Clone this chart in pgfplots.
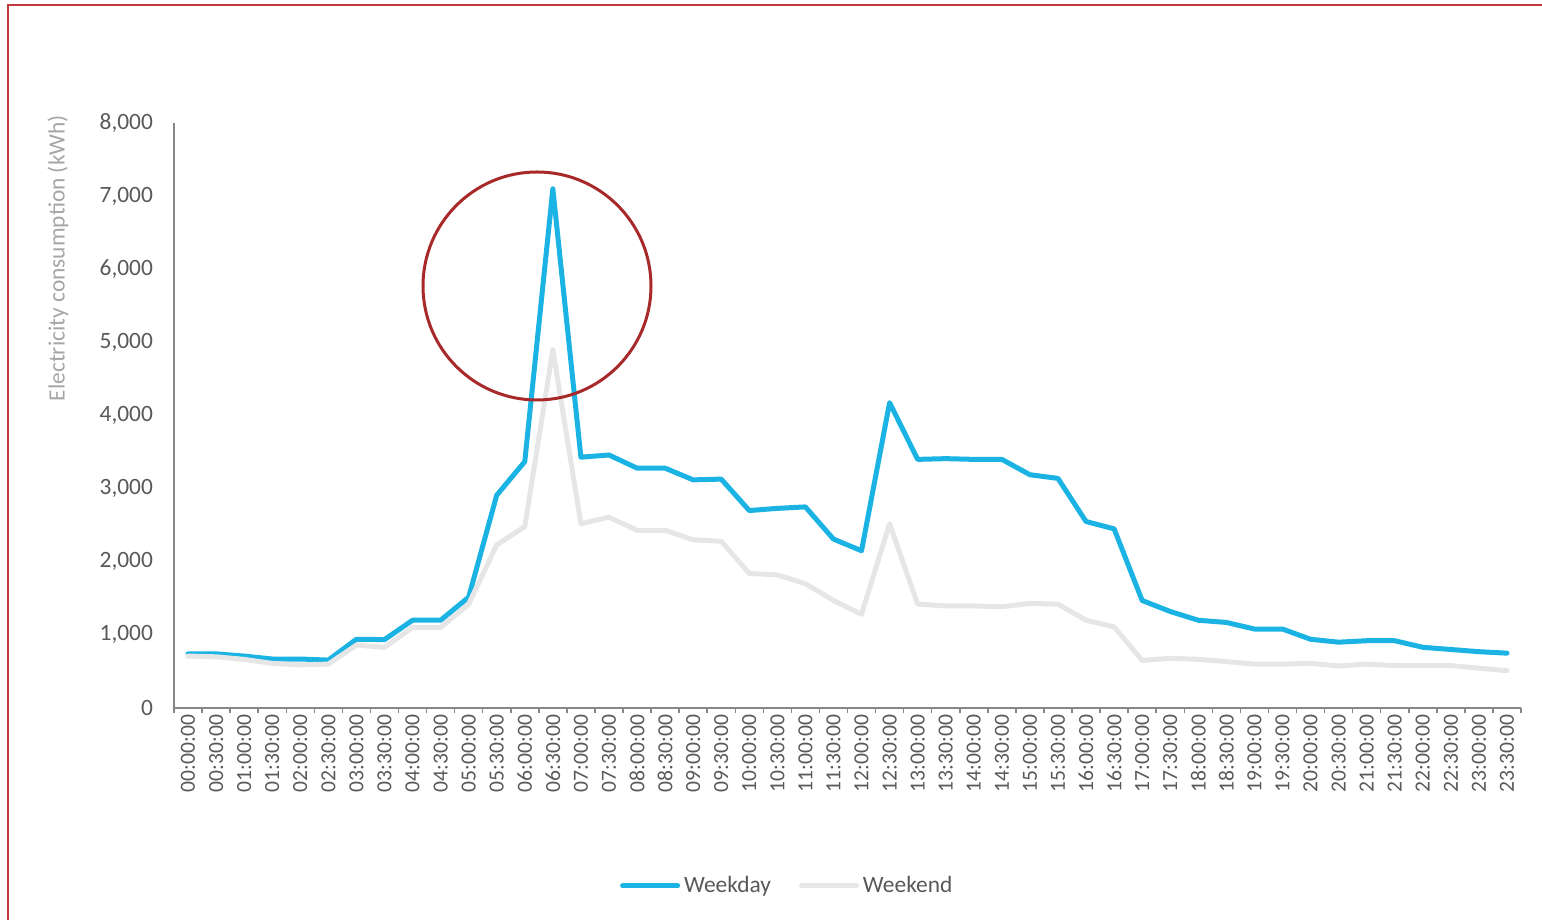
\documentclass[border=0pt]{standalone}
\usepackage{pgfplots}
\pgfplotsset{compat=1.18}
\usepackage{pgfplotstable}
\usepackage{fontspec}
\setmainfont{Carlito}
\definecolor{wkday}{HTML}{1BB3E3}
\definecolor{wkend}{HTML}{E6E6E6}
\definecolor{tickc}{HTML}{595959}
\definecolor{labc}{HTML}{A6A6A6}
\definecolor{axc}{HTML}{868686}
\definecolor{circc}{HTML}{A8292A}
\definecolor{framec}{HTML}{C0393C}

\pgfplotstableread{
idx weekday weekend
0 740 710
1 740 700
2 710 665
3 670 610
4 670 590
5 655 600
6 940 860
7 935 830
8 1200 1100
9 1200 1100
10 1515 1420
11 2910 2230
12 3370 2480
13 7100 4900
14 3430 2520
15 3460 2610
16 3280 2430
17 3280 2430
18 3120 2300
19 3130 2280
20 2700 1840
21 2730 1820
22 2750 1700
23 2310 1470
24 2150 1280
25 4175 2520
26 3400 1420
27 3410 1395
28 3400 1395
29 3400 1385
30 3190 1430
31 3140 1420
32 2550 1200
33 2450 1110
34 1470 650
35 1320 680
36 1200 665
37 1170 635
38 1080 600
39 1080 600
40 940 610
41 900 575
42 920 600
43 920 580
44 830 580
45 800 580
46 770 545
47 750 510
}\data

\begin{document}
\begin{tikzpicture}
\useasboundingbox (0,0) rectangle (771pt,460pt);
\draw[framec,line width=1pt] (4pt,-2pt) -- (4pt,457.7pt) -- (773pt,457.7pt);
\begin{axis}[
  at={(87pt,106pt)}, anchor=south west,
  scale only axis, width=673.5pt, height=292.5pt,
  xmin=-0.5, xmax=47.5, ymin=0, ymax=8000,
  clip=false,
  axis x line*=bottom, axis y line*=left,
  axis line style={axc, line width=0.75pt, -},
  xtick={0,...,47},
  xticklabels={00:00:00,00:30:00,01:00:00,01:30:00,02:00:00,02:30:00,03:00:00,03:30:00,04:00:00,04:30:00,05:00:00,05:30:00,06:00:00,06:30:00,07:00:00,07:30:00,08:00:00,08:30:00,09:00:00,09:30:00,10:00:00,10:30:00,11:00:00,11:30:00,12:00:00,12:30:00,13:00:00,13:30:00,14:00:00,14:30:00,15:00:00,15:30:00,16:00:00,16:30:00,17:00:00,17:30:00,18:00:00,18:30:00,19:00:00,19:30:00,20:00:00,20:30:00,21:00:00,21:30:00,22:00:00,22:30:00,23:00:00,23:30:00},
  major tick length=0pt,
  major tick style={draw=none},
  minor xtick={-0.5,0.5,...,47.5},
  minor tick length=2.5pt, tick align=outside,
  minor x tick style={axc, line width=0.75pt},
  ytick={0,1000,...,8000},
  scaled y ticks=false,
  xticklabel style={rotate=90, anchor=east, font=\fontsize{10.8pt}{12pt}\selectfont, text=tickc},
  yticklabel style={font=\fontsize{11.7pt}{14pt}\selectfont, text=tickc, xshift=-7pt},
  /pgf/number format/1000 sep={,},
  /pgf/number format/assume math mode=true,
  ylabel={Electricity consumption (kWh)},
  every axis y label/.style={at={(rel axis cs:0,0.769)}, xshift=-58pt, rotate=90, anchor=center, font=\fontsize{11.7pt}{14pt}\selectfont, text=labc},
  legend style={at={(0.456,-0.304)}, anchor=center, draw=none, fill=none, legend columns=2, font=\fontsize{11.7pt}{14pt}\selectfont, text=tickc, /tikz/every even column/.append style={column sep=12pt}},
  legend cell align=left,
  legend image code/.code={\draw[#1, line cap=round] (0pt,0pt) -- (27.5pt,0pt);},
]
\addplot[wkday, line width=2.5pt, line join=round, line cap=round] table[x=idx,y=weekday]{\data};
\addlegendentry{Weekday}
\addplot[wkend, line width=2.5pt, line join=round, line cap=round] table[x=idx,y=weekend]{\data};
\addlegendentry{Weekend}
\end{axis}
\draw[circc, line width=1.5pt] (268.5pt,317pt) circle[radius=57pt];
\end{tikzpicture}
\end{document}
